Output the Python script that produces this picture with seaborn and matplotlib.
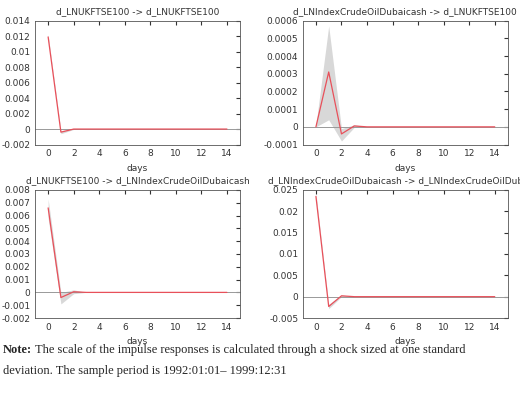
import matplotlib
matplotlib.use('Agg')
import matplotlib.pyplot as plt
import seaborn as sns
import numpy as np

days = np.arange(15)
zeros = [0.0] * 11

tl_mid = [0.0119, -0.0004, 0.0, 0.0] + zeros
tl_lo = [0.0116, -0.0006, -0.00005, 0.0] + zeros
tl_hi = [0.0122, -0.0002, 0.00005, 0.0] + zeros

tr_mid = [0.0, 0.00031, -0.00004, 0.000005] + zeros
tr_lo = [0.0, 0.00004, -0.00008, -0.000003] + zeros
tr_hi = [0.00001, 0.00057, -0.00001, 0.000012] + zeros

bl_mid = [0.0066, -0.0004, 0.00005, 0.0] + zeros
bl_lo = [0.0058, -0.0009, -0.0001, 0.0] + zeros
bl_hi = [0.0073, 0.0, 0.0002, 0.0] + zeros

br_mid = [0.0235, -0.0023, 0.0002, 0.0] + zeros
br_lo = [0.0228, -0.0028, 0.0, 0.0] + zeros
br_hi = [0.0242, -0.0018, 0.0004, 0.0] + zeros

panels = [
    ('d_LNUKFTSE100 -> d_LNUKFTSE100', tl_mid, tl_lo, tl_hi, (-0.002, 0.014), 0.002, 3),
    ('d_LNIndexCrudeOilDubaicash -> d_LNUKFTSE100', tr_mid, tr_lo, tr_hi, (-0.0001, 0.0006), 0.0001, 4),
    ('d_LNUKFTSE100 -> d_LNIndexCrudeOilDubaicash', bl_mid, bl_lo, bl_hi, (-0.002, 0.008), 0.001, 3),
    ('d_LNIndexCrudeOilDubaicash -> d_LNIndexCrudeOilDubaica', br_mid, br_lo, br_hi, (-0.005, 0.025), 0.005, 3),
]

sns.set_style('white')
plt.rcParams['font.family'] = ['DejaVu Sans']
fig = plt.figure(figsize=(5.2, 4.13), dpi=100)
boxes = [(0.068, 0.65, 0.393, 0.30), (0.583, 0.65, 0.393, 0.30),
         (0.068, 0.23, 0.393, 0.31), (0.583, 0.23, 0.393, 0.31)]

for (title, mid, lo, hi, ylim, step, dec), box in zip(panels, boxes):
    ax = fig.add_axes(box)
    ax.fill_between(days, lo, hi, color='#d8d8d8', lw=0)
    ax.axhline(0, color='#999999', lw=0.7)
    sns.lineplot(x=days, y=mid, color='#e8505a', lw=0.9, ax=ax)
    ax.set_xlim(-1, 15)
    ax.set_ylim(*ylim)
    ax.set_xticks(range(0, 15, 2))
    yt = np.arange(ylim[0], ylim[1] + step / 2, step)
    ax.set_yticks(yt)
    labels = []
    for v in yt:
        if abs(v) < step / 10:
            labels.append('0')
        else:
            labels.append(('{:.%df}' % dec).format(v).rstrip('0').rstrip('.'))
    ax.set_yticklabels(labels)
    ax.tick_params(labelsize=6.5, colors='#333333', direction='in', length=3, top=True, right=True)
    for s in ax.spines.values():
        s.set_color('#555555')
        s.set_linewidth(0.6)
    ax.set_title(title, fontsize=6.5, color='#333333', pad=5)
    ax.set_xlabel('days', fontsize=6.5, color='#333333')

fig.text(0.005, 0.145, 'Note:', fontsize=9, fontweight='bold', family='Liberation Serif')
fig.text(0.067, 0.145, 'The scale of the impulse responses is calculated through a shock sized at one standard',
         fontsize=9, family='Liberation Serif')
fig.text(0.005, 0.095, 'deviation. The sample period is 1992:01:01\u2013 1999:12:31',
         fontsize=9, family='Liberation Serif')
fig.savefig('out.png', dpi=100)
